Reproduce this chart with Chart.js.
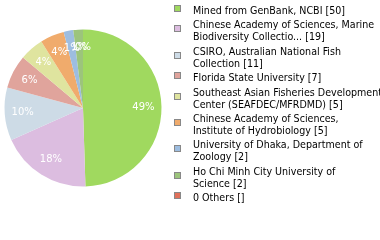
<!DOCTYPE html>
<html>
<head>
<meta charset="utf-8">
<script src="https://cdn.jsdelivr.net/npm/chart.js@4"></script>
<style>
  html, body { margin: 0; padding: 0; background: #fff; }
  #wrap { width: 380px; height: 240px; }
</style>
</head>
<body>
<div id="wrap"><canvas id="myChart" width="380" height="240"></canvas></div>
<script>
const labels = [
    ['Mined from GenBank, NCBI [50]'],
    ['Chinese Academy of Sciences, Marine', 'Biodiversity Collectio... [19]'],
    ['CSIRO, Australian National Fish', 'Collection [11]'],
    ['Florida State University [7]'],
    ['Southeast Asian Fisheries Development', 'Center (SEAFDEC/MFRDMD) [5]'],
    ['Chinese Academy of Sciences,', 'Institute of Hydrobiology [5]'],
    ['University of Dhaka, Department of', 'Zoology [2]'],
    ['Ho Chi Minh City University of', 'Science [2]'],
    ['0 Others []']
];
const counts = [50, 19, 11, 7, 5, 5, 2, 2, 0];
const colors = ['#a0d95f', '#dcbde0', '#cddbe6', '#e0a49c', '#dfe49f', '#f0ab6c', '#9dbde0', '#9cc47c', '#e0705a'];

// white percentage text on the slices
const sliceLabels = {
    id: 'sliceLabels',
    afterDatasetsDraw(chart) {
        const c = chart.ctx;
        const data = chart.data.datasets[0].data;
        const total = data.reduce((a, b) => a + b, 0);
        c.save();
        c.fillStyle = '#fff';
        c.font = '10px "DejaVu Sans"';
        c.textAlign = 'center';
        c.textBaseline = 'middle';
        chart.getDatasetMeta(0).data.forEach((arc, i) => {
            const p = arc.getProps(['x', 'y', 'startAngle', 'endAngle', 'outerRadius']);
            const mid = (p.startAngle + p.endAngle) / 2;
            const r = p.outerRadius * 0.77;
            const txt = Math.floor(data[i] / total * 100) + '%';
            c.fillText(txt, p.x + Math.cos(mid) * r, p.y + Math.sin(mid) * r);
        });
        c.restore();
    }
};

// legend on the right, box centred on each (wrapped) entry
const sideLegend = {
    id: 'sideLegend',
    afterDraw(chart) {
        const c = chart.ctx;
        const ds = chart.data.datasets[0];
        const lineH = 12, step = 14.4;
        let base = 14;
        c.save();
        c.font = '10.6px "DejaVu Sans Condensed", "DejaVu Sans"';
        c.textBaseline = 'alphabetic';
        c.textAlign = 'left';
        chart.data.labels.forEach((lines, i) => {
            const first = base;
            lines.forEach((t, j) => {
                c.fillStyle = '#000';
                c.fillText(t, 193, base);
                if (j < lines.length - 1) base += lineH;
            });
            const cy = (first + base) / 2 - 5.5;
            c.fillStyle = ds.backgroundColor[i];
            c.fillRect(174.5, Math.round(cy - 3.5) + 0.5, 6, 6);
            c.strokeStyle = '#888';
            c.lineWidth = 1;
            c.strokeRect(174.5, Math.round(cy - 3.5) + 0.5, 6, 6);
            base += step;
        });
        c.restore();
    }
};

const ctx = document.getElementById('myChart');
const myChart = new Chart(ctx, {
    type: 'pie',
    data: {
        labels: labels,
        datasets: [{
            data: counts,
            backgroundColor: colors,
            borderWidth: 0
        }]
    },
    options: {
        responsive: false,
        animation: false,
        layout: { padding: { left: 4.5, right: 218.5, top: 29.5, bottom: 53.5 } },
        plugins: {
            legend: { display: false },
            tooltip: { enabled: false }
        }
    },
    plugins: [sliceLabels, sideLegend]
});
</script>
</body>
</html>
